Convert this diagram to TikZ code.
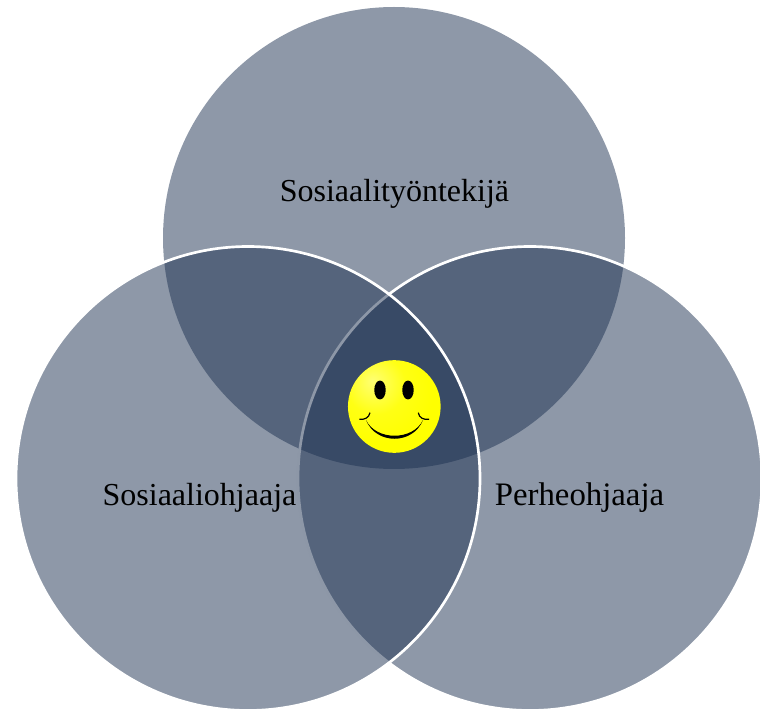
\documentclass[tikz,border=0pt]{standalone}
\usepackage{fontspec}
\setmainfont{Liberation Serif}
\definecolor{vennblue}{HTML}{1D3151}
\pgfdeclareradialshading{smileyball}{\pgfpoint{-12bp}{14bp}}{%
  color(0bp)=(yellow!55!white);
  color(16bp)=(yellow!92!white);
  color(30bp)=(yellow);
  color(52bp)=(yellow);
  color(64bp)=(yellow!82!black);
  color(100bp)=(yellow!70!black)}
\tikzset{
  venn/.style={circle, minimum size=346.5pt, inner sep=0pt, fill=vennblue, fill opacity=0.5},
  vennline/.style={venn, minimum size=348pt, draw=white, line width=2pt},
  vennlabel/.style={anchor=base, text=black, font=\fontsize{24}{28}\selectfont},
  eye/.style={ellipse, minimum width=8.6pt, minimum height=14.2pt, inner sep=0pt, fill=black},
}
\usetikzlibrary{shapes.geometric}
\begin{document}
\begin{tikzpicture}[x=0.75pt, y=-0.75pt]
  \useasboundingbox (0,0) rectangle (760,709);
  \node[venn] (social) at (394,238) {};
  \node[vennline] (family) at (530,478.5) {};
  \node[vennline] (guide) at (248,478.5) {};
  \node[vennlabel] (sociallabel) at (394.5,202) {Sosiaalityöntekijä};
  \node[vennlabel] (guidelabel) at (199.5,505) {Sosiaaliohjaaja};
  \node[vennlabel, font=\fontsize{24.6}{28}\selectfont] (familylabel) at (579.5,505) {Perheohjaaja};
  \node[circle, minimum size=69.5pt, inner sep=0pt, shading=smileyball] (smiley) at (394.3,406.5) {};
  \node[eye] (lefteye) at (380,390) {};
  \node[eye] (righteye) at (408,390) {};
  \coordinate (mouthl) at (366,420);
  \coordinate (mouthr) at (423,420);
  \fill[black] (mouthl) .. controls (376,445) and (413,445) .. (mouthr) .. controls (413,441) and (376,441) .. (mouthl);
  \draw[black, line width=0.9pt] (359.3,419.3) .. controls (364,420) and (369,418) .. (370,412.7);
  \draw[black, line width=0.9pt] (429,419.3) .. controls (424,420) and (419,418) .. (418.3,412.7);
\end{tikzpicture}
\end{document}
